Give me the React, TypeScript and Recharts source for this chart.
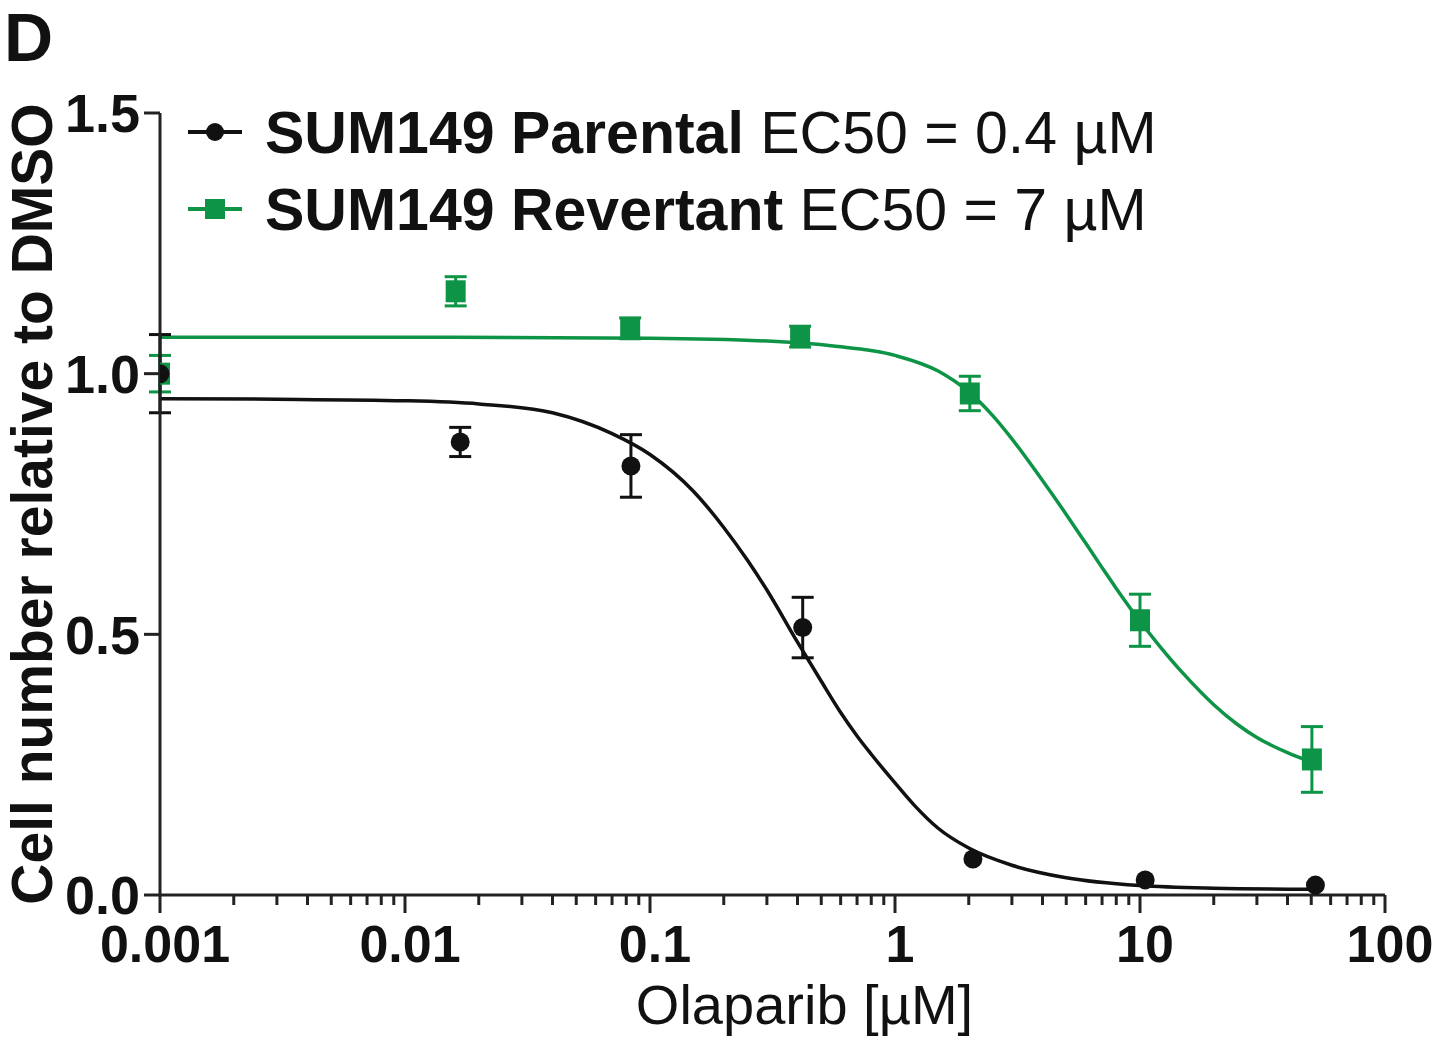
import { ComposedChart, Line, Scatter, XAxis, YAxis, ErrorBar } from 'recharts';

// measured points (mean ± SEM)
const PARENTAL_X = [0.001, 0.0168, 0.0836, 0.42, 2.08, 10.5, 52];
const PARENTAL_Y = [1.0, 0.869, 0.823, 0.513, 0.069, 0.029, 0.019];
const PARENTAL_ERR = [0.075, 0.028, 0.06, 0.058, 0, 0, 0];

const REVERTANT_X = [0.001, 0.0161, 0.083, 0.41, 2.02, 10.0, 50.3];
const REVERTANT_Y = [1.0, 1.158, 1.087, 1.071, 0.962, 0.527, 0.26];
const REVERTANT_ERR = [0.035, 0.028, 0.02, 0.02, 0.033, 0.05, 0.063];

// fitted curves
const PARENTAL_FIT_X = [0.001, 0.003, 0.01, 0.02, 0.04, 0.07, 0.1, 0.15, 0.2, 0.25, 0.3, 0.4, 0.5, 0.6, 0.7, 0.8, 1, 1.2, 1.5, 2, 3, 5, 10, 20, 50];
const PARENTAL_FIT_Y = [0.952, 0.951, 0.948, 0.942, 0.925, 0.885, 0.845, 0.775, 0.705, 0.642, 0.585, 0.485, 0.41, 0.35, 0.305, 0.27, 0.215, 0.172, 0.128, 0.09, 0.057, 0.033, 0.018, 0.013, 0.011];

const REVERTANT_FIT_X = [0.001, 0.01, 0.1, 0.316, 0.56, 1, 1.5, 2, 2.5, 3, 4, 5, 6, 7, 8, 10, 12, 15, 20, 25, 30, 40, 50];
const REVERTANT_FIT_Y = [1.07, 1.07, 1.068, 1.062, 1.053, 1.035, 1.005, 0.965, 0.92, 0.875, 0.795, 0.73, 0.675, 0.628, 0.588, 0.525, 0.478, 0.425, 0.365, 0.327, 0.302, 0.273, 0.255];

const SERIES_NAMES = ['SUM149 Parental', 'SUM149 Revertant'];
const EC50_TEXT = ['EC50 = 0.4 \u00b5M', 'EC50 = 7 \u00b5M'];

const MAJOR_TICKS = [0.001, 0.01, 0.1, 1, 10, 100];
const MAJOR_LABELS = ['0.001', '0.01', '0.1', '1', '10', '100'];
const MINOR_STEPS = [2, 3, 4, 5, 6, 7, 8, 9];
const Y_TICKS = [0, 0.5, 1, 1.5];

const GREEN = '#0e9446';
const BLACK = '#111';
const AXIS = '#222';
const FONT = '"Liberation Sans", Arial, sans-serif';

const zip = (xs: number[], ys: number[], es?: number[]) =>
  xs.map((x, i) => ({ x, y: ys[i], err: es ? es[i] : undefined }));

const parental = zip(PARENTAL_X, PARENTAL_Y, PARENTAL_ERR);
const revertant = zip(REVERTANT_X, REVERTANT_Y, REVERTANT_ERR);
const parentalFit = zip(PARENTAL_FIT_X, PARENTAL_FIT_Y);
const revertantFit = zip(REVERTANT_FIT_X, REVERTANT_FIT_Y);

const xTicks: number[] = [];
MAJOR_TICKS.forEach((m, i) => {
  xTicks.push(m);
  if (i < MAJOR_TICKS.length - 1) MINOR_STEPS.forEach((s) => xTicks.push(+(m * s).toPrecision(3)));
});

const XTick = (props: any) => {
  const { x, y, payload } = props;
  const idx = MAJOR_TICKS.findIndex((m) => Math.abs(m - payload.value) / m < 1e-6);
  const major = idx >= 0;
  return (
    <g>
      <line x1={x} y1={y} x2={x} y2={y + (major ? 18 : 10)} stroke={AXIS} strokeWidth={3} />
      {major && (
        <text x={x + 5} y={y + 67} textAnchor="middle" fontSize={52} fontWeight="bold" fontFamily={FONT} fill="#111">
          {MAJOR_LABELS[idx]}
        </text>
      )}
    </g>
  );
};

const XLabel = (props: any) => {
  const { viewBox } = props;
  const cx = viewBox.x + viewBox.width / 2 + 32;
  return (
    <text x={cx} y={1024} textAnchor="middle" fontSize={56} fontFamily={FONT} fill="#111">
      Olaparib [{'\u00b5'}M]
    </text>
  );
};

const YLabel = (props: any) => {
  const { viewBox } = props;
  const cx = 52;
  const cy = viewBox.y + viewBox.height / 2;
  return (
    <text x={cx} y={cy} transform={`rotate(-90 ${cx} ${cy})`} textAnchor="middle" fontSize={57} fontWeight="bold" fontFamily={FONT} fill="#111">
      Cell number relative to DMSO
    </text>
  );
};

const Dot = (p: any) => <circle cx={p.cx} cy={p.cy} r={9.5} fill={BLACK} />;
const Square = (p: any) => <rect x={p.cx - 10} y={p.cy - 11} width={20} height={22} fill={GREEN} />;

export default function App() {
  return (
    <div style={{ position: 'absolute', left: 0, top: 0, width: 1440, height: 1037, background: '#fff', fontFamily: FONT }}>
      <ComposedChart width={1440} height={1037} margin={{ top: 113, right: 55, bottom: 0, left: 0 }}>
        <XAxis
          dataKey="x"
          type="number"
          scale="log"
          domain={[0.001, 100]}
          allowDataOverflow
          ticks={xTicks}
          interval={0}
          tickSize={0}
          tickMargin={0}
          tick={<XTick />}
          height={142}
          axisLine={{ stroke: AXIS, strokeWidth: 3 }}
          tickLine={false}
          label={<XLabel />}
        />
        <YAxis
          dataKey="y"
          type="number"
          domain={[0, 1.5]}
          ticks={Y_TICKS}
          interval={0}
          width={160}
          tickSize={16}
          tickMargin={4}
          tickFormatter={(v: number) => v.toFixed(1)}
          tick={{ fontSize: 54, fontWeight: 'bold', fontFamily: FONT, fill: '#111' }}
          axisLine={{ stroke: AXIS, strokeWidth: 3 }}
          tickLine={{ stroke: AXIS, strokeWidth: 3 }}
          label={<YLabel />}
        />
        <Line data={revertantFit} dataKey="y" type="monotone" stroke={GREEN} strokeWidth={3.5} dot={false} isAnimationActive={false} />
        <Line data={parentalFit} dataKey="y" type="monotone" stroke={BLACK} strokeWidth={3.5} dot={false} isAnimationActive={false} />
        <Scatter data={revertant} dataKey="y" shape={<Square />} isAnimationActive={false}>
          <ErrorBar dataKey="err" direction="y" width={11} strokeWidth={3} stroke={GREEN} />
        </Scatter>
        <Scatter data={parental} dataKey="y" shape={<Dot />} isAnimationActive={false}>
          <ErrorBar dataKey="err" direction="y" width={11} strokeWidth={3} stroke={BLACK} />
        </Scatter>
      </ComposedChart>

      <svg width={80} height={80} style={{ position: 'absolute', left: 0, top: 0 }}>
        <text x={4} y={61} fontSize={68} fontWeight="bold" fontFamily={FONT} fill="#111">D</text>
      </svg>

      {SERIES_NAMES.map((name, i) => (
        <div key={name} style={{ position: 'absolute', left: 185, top: 94 + i * 77, height: 78, whiteSpace: 'nowrap' }}>
          <svg width={60} height={78} style={{ position: 'absolute', left: 0, top: 0 }}>
            <line x1={3} y1={38} x2={57} y2={38} stroke={i === 0 ? BLACK : GREEN} strokeWidth={4} />
            {i === 0 ? <circle cx={30} cy={38} r={9} fill={BLACK} /> : <rect x={20} y={28} width={20} height={20} fill={GREEN} />}
          </svg>
          <div style={{ position: 'absolute', left: 80, top: 0, fontSize: 59, lineHeight: '78px', color: '#111' }}>
            <span style={{ fontWeight: 'bold' }}>{name}</span> {EC50_TEXT[i]}
          </div>
        </div>
      ))}
    </div>
  );
}
